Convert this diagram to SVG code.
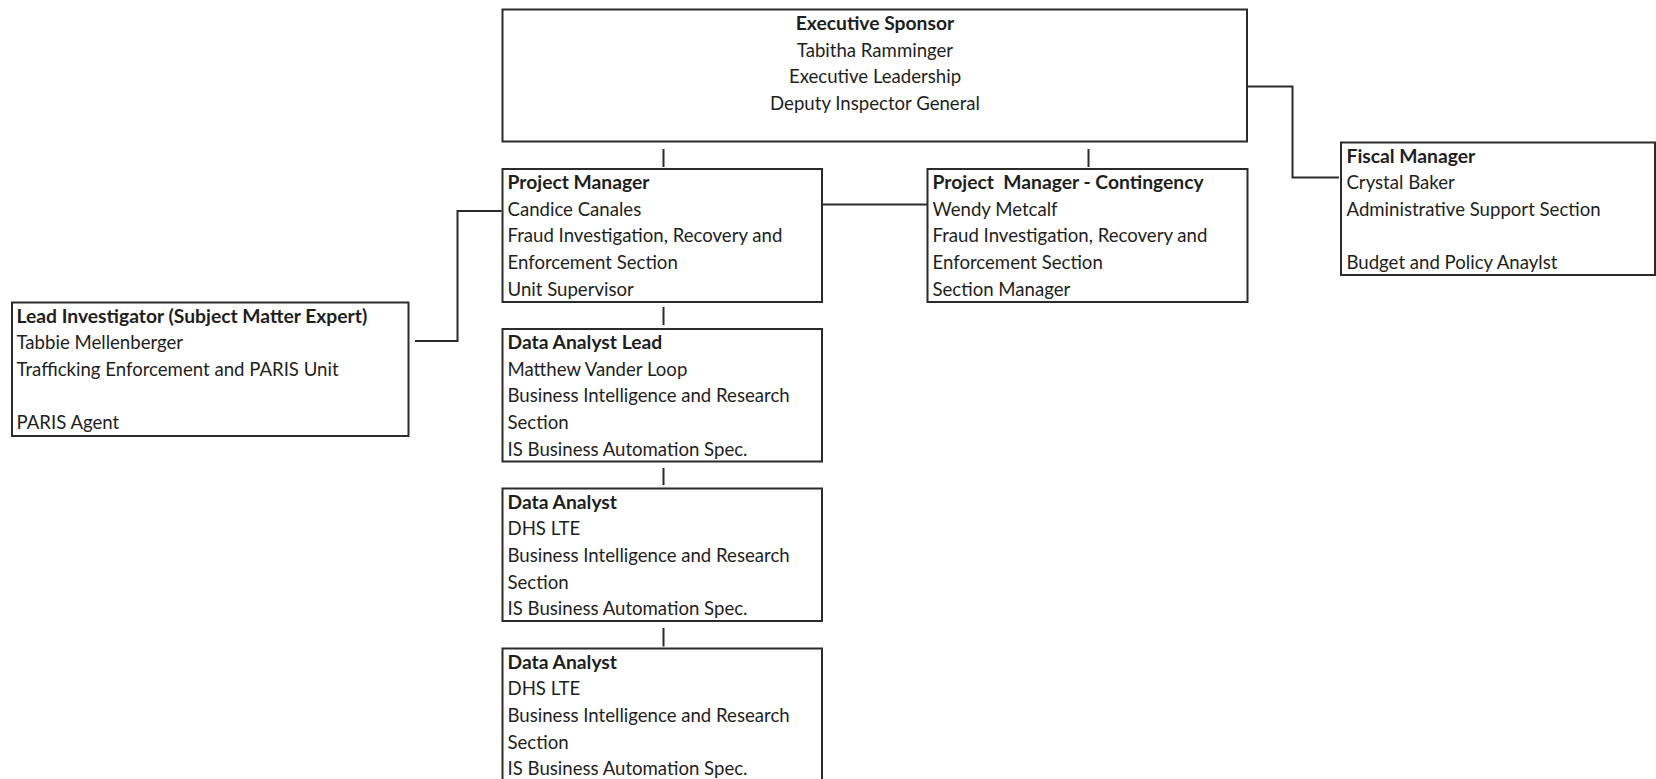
<svg xmlns="http://www.w3.org/2000/svg" width="1656" height="779" viewBox="0 0 1656 779">
<style>
.box{fill:#fff;stroke:#2b2b2b;stroke-width:2}
.t{font-family:Lato,"Open Sans","Liberation Sans",sans-serif;font-size:18.6px;fill:#1e1e1e}
.b{font-weight:bold;font-size:19.3px}
.c{text-anchor:middle}
.ln{fill:none;stroke:#2b2b2b;stroke-width:2}
</style>
<rect width="1656" height="779" fill="#fff"/>
<g id="connectors">
<path class="ln" d="M663.5,149 V167"/>
<path class="ln" d="M1088.5,149 V167"/>
<path class="ln" d="M822,204.5 H927.5"/>
<path class="ln" d="M415,341 H457.5 V211 H501.5"/>
<path class="ln" d="M663.5,307 V325"/>
<path class="ln" d="M663.5,468 V485"/>
<path class="ln" d="M663.5,628 V646.5"/>
<path class="ln" d="M1247,86.5 H1292.5 V177.5 H1339"/>
</g>
<g id="executive-sponsor">
<rect class="box" x="502.5" y="9.5" width="744.5" height="132"/>
<text class="t b c" x="875" y="30">Executive Sponsor</text>
<text class="t c" x="875" y="56.7">Tabitha Ramminger</text>
<text class="t c" x="875" y="83.3">Executive Leadership</text>
<text class="t c" x="875" y="110">Deputy Inspector General</text>
</g>
<g id="project-manager">
<rect class="box" x="502.5" y="169" width="319.5" height="133"/>
<text class="t b" x="507.5" y="189">Project Manager</text>
<text class="t" x="507.5" y="215.7">Candice Canales</text>
<text class="t" x="507.5" y="242.3">Fraud Investigation, Recovery and</text>
<text class="t" x="507.5" y="269">Enforcement Section</text>
<text class="t" x="507.5" y="295.7">Unit Supervisor</text>
</g>
<g id="project-manager-contingency">
<rect class="box" x="927.5" y="169" width="320" height="133"/>
<text class="t b" x="932.5" y="189" xml:space="preserve">Project  Manager - Contingency</text>
<text class="t" x="932.5" y="215.7">Wendy Metcalf</text>
<text class="t" x="932.5" y="242.3">Fraud Investigation, Recovery and</text>
<text class="t" x="932.5" y="269">Enforcement Section</text>
<text class="t" x="932.5" y="295.7">Section Manager</text>
</g>
<g id="fiscal-manager">
<rect class="box" x="1341" y="142.5" width="314" height="132.5"/>
<text class="t b" x="1346.5" y="162.5">Fiscal Manager</text>
<text class="t" x="1346.5" y="189.2">Crystal Baker</text>
<text class="t" x="1346.5" y="215.8">Administrative Support Section</text>
<text class="t" x="1346.5" y="269.2">Budget and Policy Anaylst</text>
</g>
<g id="lead-investigator">
<rect class="box" x="12" y="302.5" width="396.5" height="133.5"/>
<text class="t b" x="16.5" y="322.5">Lead Investigator (Subject Matter Expert)</text>
<text class="t" x="16.5" y="349.2">Tabbie Mellenberger</text>
<text class="t" x="16.5" y="375.8">Trafficking Enforcement and PARIS Unit</text>
<text class="t" x="16.5" y="429.2">PARIS Agent</text>
</g>
<g id="data-analyst-lead">
<rect class="box" x="502.5" y="329" width="319.5" height="132.5"/>
<text class="t b" x="507.5" y="349">Data Analyst Lead</text>
<text class="t" x="507.5" y="375.7">Matthew Vander Loop</text>
<text class="t" x="507.5" y="402.3">Business Intelligence and Research</text>
<text class="t" x="507.5" y="429">Section</text>
<text class="t" x="507.5" y="455.7">IS Business Automation Spec.</text>
</g>
<g id="data-analyst-1">
<rect class="box" x="502.5" y="488.5" width="319.5" height="132.5"/>
<text class="t b" x="507.5" y="508.5">Data Analyst</text>
<text class="t" x="507.5" y="535.2">DHS LTE</text>
<text class="t" x="507.5" y="561.8">Business Intelligence and Research</text>
<text class="t" x="507.5" y="588.5">Section</text>
<text class="t" x="507.5" y="615.2">IS Business Automation Spec.</text>
</g>
<g id="data-analyst-2">
<rect class="box" x="502.5" y="648.5" width="319.5" height="150"/>
<text class="t b" x="507.5" y="668.5">Data Analyst</text>
<text class="t" x="507.5" y="695.2">DHS LTE</text>
<text class="t" x="507.5" y="721.8">Business Intelligence and Research</text>
<text class="t" x="507.5" y="748.5">Section</text>
<text class="t" x="507.5" y="775.2">IS Business Automation Spec.</text>
</g>
</svg>
